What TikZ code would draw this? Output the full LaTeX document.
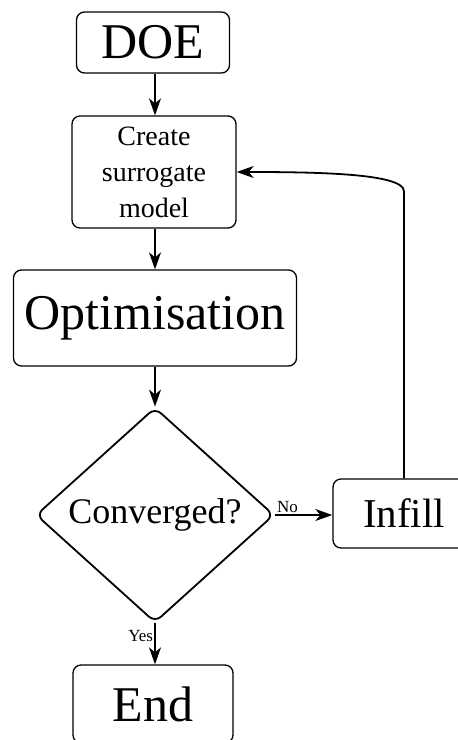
\documentclass[tikz,border=0pt]{standalone}
\usepackage{fontspec}
\setmainfont{Liberation Serif}
\usetikzlibrary{shapes.geometric,arrows.meta}
\begin{document}
\begin{tikzpicture}[x=1pt,y=-1pt,
  box/.style={draw,line width=1.3pt,rounded corners=8pt,inner sep=0pt,align=center},
  decision/.style={draw,diamond,line width=1.8pt,rounded corners=8pt,inner sep=0pt},
  flow/.style={line width=1.8pt,-{Stealth[length=17pt,width=12pt,inset=5pt]}},
  lbl/.style={font=\fontsize{17}{19}\selectfont,inner sep=1pt}]
\useasboundingbox (0,0) rectangle (458,740);
\begin{scope}
\clip (0,0) rectangle (458,740);
\node[box,minimum width=153pt,minimum height=61pt,font=\fontsize{50}{56}\selectfont] (doe) at (153,42.5) {DOE};
\node[box,minimum width=164pt,minimum height=112pt,font=\fontsize{28}{36}\selectfont] (create) at (154,172) {Create\\surrogate\\model};
\node[box,minimum width=283pt,minimum height=96pt,font=\fontsize{50}{56}\selectfont] (opt) at (155,318) {Optimisation};
\node[decision,minimum width=238pt,minimum height=215pt,font=\fontsize{36}{40}\selectfont] (conv) at (155,515) {Converged?};
\node[box,minimum width=142pt,minimum height=69pt,font=\fontsize{41}{46}\selectfont] (infill) at (404,513.5) {Infill};
\node[box,minimum width=160pt,minimum height=78pt,font=\fontsize{50}{56}\selectfont] (end) at (153,704) {End};

% vertical flow along the main column
\draw[flow] (conv.north |- doe.south) -- (conv.north |- create.north);
\draw[flow] (conv.north |- create.south) -- (opt.north);
\draw[flow] (opt.south) -- (conv.north);
\draw[flow] (conv.east) -- node[lbl,above,pos=0.22] {No} (infill.west |- conv.east);
\draw[flow] (conv.south) -- node[lbl,left,pos=0.3] {Yes} (conv.south |- end.north);
% feedback loop from infill back to the surrogate model
\draw[flow] (infill.north) -- ++(0,-287) .. controls ++(0,-18) and ++(80,0) .. (create.east);
\end{scope}
\end{tikzpicture}
\end{document}
